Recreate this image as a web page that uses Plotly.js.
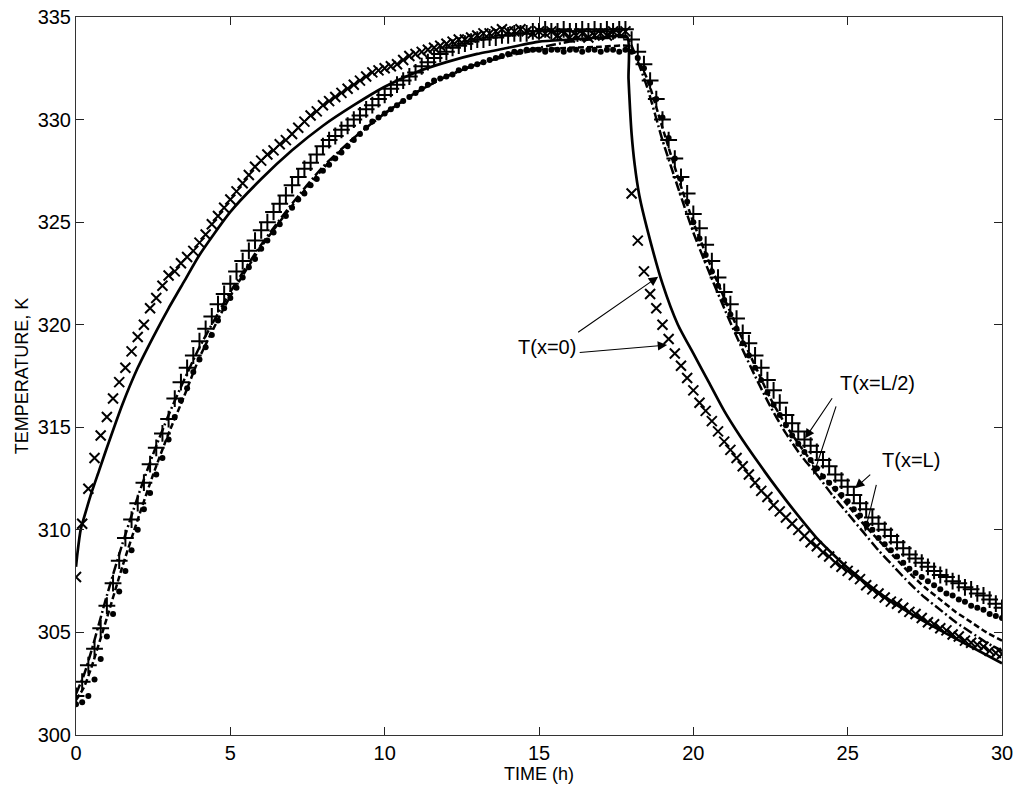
<!DOCTYPE html>
<html><head><meta charset="utf-8">
<script src="https://cdn.plot.ly/plotly-3.0.1.min.js"></script>
<style>html,body{margin:0;padding:0;background:#fff}#chart{width:1018px;height:792px}</style>
</head><body><div id="chart"></div>
<script>
// Measured (marker) times, hours
const tMeas = [0,0.2,0.4,0.6,0.8,1,1.2,1.4,1.6,1.8,2,2.2,2.4,2.6,2.8,3,3.2,3.4,3.6,3.8,
4,4.2,4.4,4.6,4.8,5,5.2,5.4,5.6,5.8,6,6.2,6.4,6.6,6.8,7,7.2,7.4,7.6,7.8,
8,8.2,8.4,8.6,8.8,9,9.2,9.4,9.6,9.8,10,10.2,10.4,10.6,10.8,11,11.2,11.4,11.6,11.8,
12,12.2,12.4,12.6,12.8,13,13.2,13.4,13.6,13.8,14,14.2,14.4,14.6,14.8,15,15.2,15.4,15.6,15.8,
16,16.2,16.4,16.6,16.8,17,17.2,17.4,17.6,17.8,
18,18.2,18.4,18.6,18.8,19,19.2,19.4,19.6,19.8,20,20.2,20.4,20.6,20.8,21,21.2,21.4,21.6,21.8,
22,22.2,22.4,22.6,22.8,23,23.2,23.4,23.6,23.8,24,24.2,24.4,24.6,24.8,25,25.2,25.4,25.6,25.8,
26,26.2,26.4,26.6,26.8,27,27.2,27.4,27.6,27.8,28,28.2,28.4,28.6,28.8,29,29.2,29.4,29.6,29.8,30];

// Measured T(x=0), K  (x markers)
const measX0 = [307.7,310.3,312.0,313.5,314.6,315.5,316.4,317.2,317.9,318.7,319.4,320.0,320.8,321.3,321.9,322.4,322.6,323.0,323.3,323.6,
324.0,324.4,324.9,325.3,325.7,326.1,326.5,326.9,327.3,327.7,328.0,328.3,328.5,328.8,329.0,329.3,329.6,329.9,330.2,330.4,
330.7,330.9,331.1,331.3,331.5,331.7,331.9,332.1,332.3,332.4,332.5,332.6,332.7,332.9,333.1,333.2,333.3,333.4,333.5,333.6,
333.7,333.8,333.9,333.9,334.0,334.1,334.2,334.2,334.3,334.4,334.3,334.3,334.4,334.3,334.2,334.3,334.2,334.3,334.1,334.2,
334.0,334.1,334.2,334.0,334.1,334.2,334.1,334.3,334.2,334.3,
326.4,324.1,322.6,321.5,320.8,320.0,319.3,318.6,318.0,317.4,
316.8,316.2,315.8,315.3,314.8,314.3,313.9,313.5,313.1,312.7,
312.3,311.9,311.6,311.2,310.9,310.6,310.3,310.0,309.7,309.4,
309.2,308.9,308.7,308.4,308.2,308.0,307.8,307.6,307.3,307.1,
306.9,306.7,306.5,306.4,306.2,306.0,305.9,305.7,305.5,305.4,
305.2,305.1,304.9,304.8,304.6,304.5,304.4,304.3,304.1,304.0,303.95];

// Measured T(x=L/2), K  (+ markers)
const measXL2 = [301.9,302.6,303.4,304.2,305.2,306.3,307.4,308.5,309.6,310.5,311.3,312.3,313.2,314.0,314.7,315.4,316.4,317.2,317.9,318.5,
319.2,319.8,320.4,321.0,321.5,322.0,322.6,323.1,323.6,324.1,324.6,325.0,325.5,325.9,326.3,326.8,327.2,327.6,327.9,328.3,
328.7,329.0,329.2,329.5,329.7,330.0,330.2,330.5,330.7,331.0,331.2,331.5,331.7,331.9,332.1,332.3,332.6,332.8,333.0,333.2,
333.3,333.5,333.6,333.7,333.8,333.9,333.9,334.0,334.0,334.1,334.1,334.2,334.2,334.2,334.3,334.3,334.4,334.3,334.3,334.4,
334.3,334.3,334.4,334.3,334.4,334.3,334.4,334.3,334.4,334.4,
333.9,333.3,332.7,331.9,331.0,330.0,329.0,328.1,327.2,326.4,
325.4,324.7,323.9,323.1,322.3,321.6,321.0,320.3,319.6,319.1,
318.5,317.9,317.3,316.8,316.2,315.6,315.2,314.8,314.4,314.1,
313.8,313.4,313.1,312.7,312.4,312.1,311.7,311.3,311.0,310.6,
310.3,310.0,309.7,309.4,309.1,308.8,308.6,308.4,308.2,308.0,
307.8,307.7,307.5,307.4,307.2,307.1,306.9,306.8,306.6,306.4,306.2];

// Measured T(x=L), K  (dots)
const measXL = [301.5,301.6,301.9,302.7,303.7,304.8,305.9,307.0,308.0,309.0,310.0,311.0,311.8,312.7,313.5,314.4,315.5,316.3,316.9,317.7,
318.3,318.9,319.5,320.2,320.8,321.3,321.8,322.3,322.8,323.2,323.7,324.1,324.5,324.9,325.3,325.7,326.1,326.4,326.8,327.1,
327.5,327.8,328.1,328.4,328.7,329.0,329.3,329.6,329.9,330.1,330.3,330.5,330.7,330.9,331.1,331.3,331.5,331.7,331.9,332.0,
332.1,332.2,332.4,332.5,332.6,332.7,332.8,332.9,333.0,333.1,333.2,333.3,333.3,333.4,333.4,333.4,333.3,333.4,333.4,333.3,
333.4,333.4,333.3,333.4,333.4,333.3,333.4,333.4,333.3,333.4,
333.3,333.0,332.5,331.8,331.0,330.1,329.1,328.1,327.1,326.0,
325.0,324.2,323.4,322.6,321.9,321.2,320.5,319.8,319.1,318.5,
317.9,317.3,316.7,316.1,315.6,315.1,314.6,314.2,313.8,313.4,
313.0,312.6,312.3,312.0,311.7,311.4,311.0,310.7,310.3,310.0,
309.6,309.3,309.0,308.7,308.4,308.1,307.9,307.7,307.5,307.3,
307.1,306.9,306.8,306.6,306.5,306.3,306.2,306.1,305.9,305.8,305.7];

// Model T(x=0) (solid line)
const tModel0 = [0,0.05,0.15,0.3,0.5,0.75,1,1.5,2,2.5,3,3.5,4,5,6,7,8,9,10,11,12,13,14,15,16,17,17.85,
17.9,17.95,18,18.1,18.25,18.5,19,19.5,20,20.5,21,21.5,22,22.5,23,23.5,24,24.5,25,26,27,28,29,30];
const model0 = [308.2,308.9,310.0,310.8,311.8,312.9,314.0,316.1,317.9,319.4,320.8,322.1,323.4,325.5,327.1,328.5,329.7,330.7,331.6,332.3,332.8,333.2,333.5,333.8,333.9,334.0,334.05,
332.0,330.5,329.3,327.8,326.3,324.7,322.0,320.0,318.6,317.2,315.8,314.6,313.5,312.45,311.45,310.5,309.6,308.85,308.15,306.95,305.95,305.1,304.3,303.5];

// Model T(x=L/2) (dash-dot line)
const tModelL2 = [0,0.25,0.5,1,1.5,2,2.5,3,3.5,4,5,6,7,8,9,10,11,12,13,14,15,16,17,17.85,
18,18.5,19,19.5,20,20.5,21,21.5,22,22.5,23,23.5,24,24.5,25,25.5,26,26.5,27,27.5,28,28.5,29,29.5,30];
const modelL2 = [302.0,302.9,304.1,306.8,309.3,311.6,313.7,315.6,317.3,318.9,321.6,323.9,325.9,327.7,329.1,330.3,331.3,332.1,332.7,333.2,333.5,333.8,333.95,334.0,
333.6,331.6,329.0,326.7,324.5,322.6,320.8,319.1,317.5,316.0,314.7,313.6,312.7,311.7,310.8,309.9,309.0,308.2,307.4,306.7,306.1,305.5,305.0,304.5,304.1];

// Model T(x=L) (dashed line)
const tModelL = [0,0.25,0.5,1,1.5,2,2.5,3,3.5,4,5,6,7,8,9,10,11,12,13,14,15,16,17,17.85,
18,18.5,19,19.5,20,20.5,21,21.5,22,22.5,23,23.5,24,24.5,25,25.5,26,26.5,27,27.5,28,28.5,29,29.5,30];
const modelL = [301.7,302.3,303.3,305.7,308.2,310.5,312.7,314.7,316.5,318.4,321.4,323.8,325.8,327.6,329.1,330.3,331.3,332.1,332.7,333.1,333.4,333.5,333.55,333.6,
333.45,332.0,329.6,327.2,325.0,323.1,321.3,319.6,318.0,316.4,315.1,314.0,313.0,312.1,311.2,310.3,309.5,308.7,307.9,307.2,306.6,306.0,305.5,305.0,304.6];

const xTicks = [0,5,10,15,20,25,30];
const yTicks = [300,305,310,315,320,325,330,335];
const xTitle = 'TIME (h)';
const yTitle = 'TEMPERATURE, K';
const labels = ['T(x=0)','T(x=L/2)','T(x=L)'];

const FONT = 'Liberation Sans, Arial, sans-serif';
const lineStyle = (w, dash) => ({color:'#000', width:w, dash:dash, shape:'spline', smoothing:0.6});

const traces = [
  {x:tModel0, y:model0, mode:'lines', line:lineStyle(2.7,'solid'), hoverinfo:'skip'},
  {x:tModelL2, y:modelL2, mode:'lines', line:lineStyle(2.5,'10px,3px,2px,3px'), hoverinfo:'skip'},
  {x:tModelL, y:modelL, mode:'lines', line:lineStyle(2.5,'6px,3px'), hoverinfo:'skip'},
  {x:tMeas, y:measX0, mode:'markers', marker:{symbol:'x-thin-open', size:10, color:'#000', line:{color:'#000', width:2}}},
  {x:tMeas, y:measXL2, mode:'markers', marker:{symbol:'cross-thin-open', size:12, color:'#000', line:{color:'#000', width:2}}},
  {x:tMeas, y:measXL, mode:'markers', marker:{symbol:'circle', size:6, color:'#000', line:{width:0}}}
];

const arrow = (tip, tail) => ({x:tip[0], y:tip[1], ax:tail[0], ay:tail[1], xref:'x', yref:'y', axref:'x', ayref:'y',
  text:'', showarrow:true, arrowhead:2, arrowsize:1.7, arrowwidth:1.1, arrowcolor:'#000', standoff:0, startstandoff:0});
const label = (txt, pos) => ({x:pos[0], y:pos[1], xref:'x', yref:'y', text:txt, showarrow:false,
  font:{family:FONT, size:20, color:'#000'}, xanchor:'center', yanchor:'middle'});

const layout = {
  width:1018, height:792,
  margin:{l:76, r:16, t:17, b:57},
  paper_bgcolor:'#fff', plot_bgcolor:'#fff',
  showlegend:false,
  font:{family:FONT, color:'#000'},
  xaxis:{range:[0,30], tickvals:xTicks, ticktext:xTicks.map(String), ticks:'inside', ticklen:8, tickwidth:1, tickcolor:'#222',
    showline:true, linecolor:'#333', linewidth:1, mirror:'ticks', showgrid:false, zeroline:false,
    tickfont:{family:FONT, size:20, color:'#000'},
    title:{text:xTitle, font:{family:FONT, size:18, color:'#000'}, standoff:2}},
  yaxis:{range:[300,335], tickvals:yTicks, ticktext:yTicks.map(String), ticks:'inside', ticklen:8, tickwidth:1, tickcolor:'#222',
    showline:true, linecolor:'#333', linewidth:1, mirror:'ticks', showgrid:false, zeroline:false,
    tickfont:{family:FONT, size:20, color:'#000'},
    title:{text:yTitle, font:{family:FONT, size:18, color:'#000'}, standoff:4}},
  annotations:[
    label(labels[0], [15.27, 318.9]),
    arrow([18.86, 322.34], [16.22, 319.58]),
    arrow([19.15, 319.01], [16.27, 318.64]),
    label(labels[1], [25.98, 317.16]),
    arrow([23.62, 314.46], [24.53, 316.49]),
    arrow([23.89, 312.67], [24.64, 316.09]),
    label(labels[2], [27.05, 313.41]),
    arrow([25.24, 312.03], [25.78, 312.76]),
    arrow([25.56, 309.91], [25.94, 312.27])
  ]
};

Plotly.newPlot('chart', traces, layout, {staticPlot:true, displayModeBar:false});
</script>
</body></html>
